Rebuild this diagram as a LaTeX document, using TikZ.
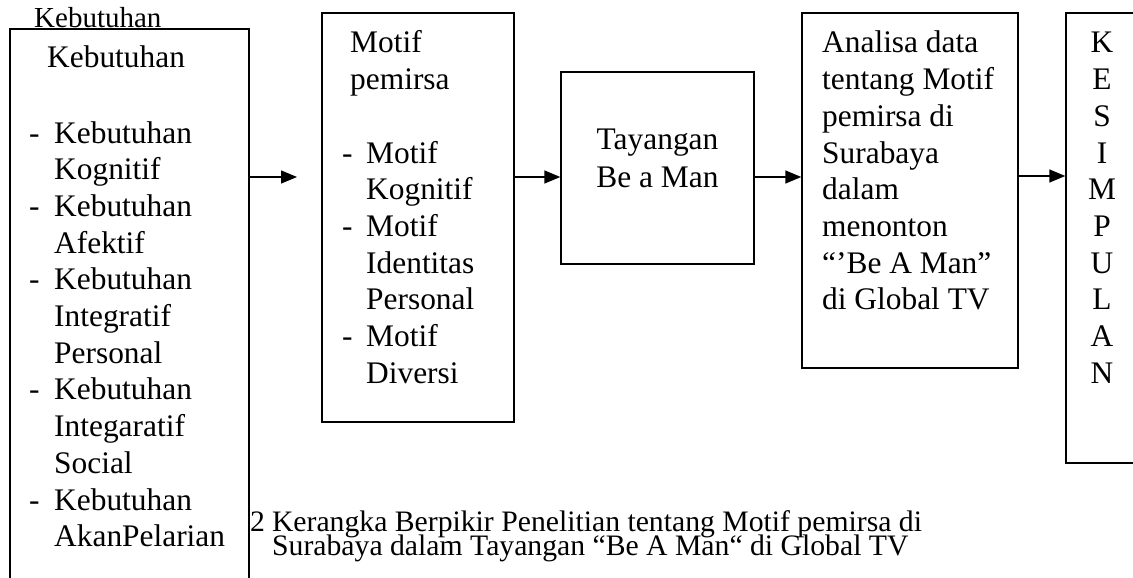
\documentclass[tikz,border=0pt]{standalone}
\usepackage{fontspec}
\setmainfont{Liberation Serif}
\usetikzlibrary{arrows.meta}
\tikzset{
  box/.style={draw, line width=1.4pt, inner sep=0pt, anchor=center},
  txt/.style={inner sep=0pt, anchor=base west, font=\fontsize{31.4}{36.7}\selectfont},
  ctxt/.style={inner sep=0pt, anchor=base, font=\fontsize{31.4}{36.7}\selectfont},
  captxt/.style={inner sep=0pt, anchor=base west, font=\fontsize{29.7}{25}\selectfont},
  arr/.style={line width=1.4pt, -{Triangle[length=16pt,width=13pt]}}
}
\newcommand{\dsh}{\makebox[25pt][l]{-}}
\newcommand{\ind}{\hspace*{25pt}}
\newcommand{\dshb}{\makebox[24pt][l]{-}}
\newcommand{\indb}{\hspace*{24pt}}
\begin{document}
\begin{tikzpicture}[x=1pt,y=-1pt]
\useasboundingbox (0,0) rectangle (1133,578);
\fill[white] (0,0) rectangle (1133,578);
\clip (0,0) rectangle (1133,578);

% boxes
\node[box, minimum width=239pt, minimum height=591pt] (b1) at (129.5,324.5) {};
\node[box, minimum width=192pt, minimum height=409pt] (b2) at (418,217.5) {};
\node[box, minimum width=193pt, minimum height=192pt] (b3) at (657.5,168) {};
\node[box, minimum width=216pt, minimum height=355pt] (b4) at (910,190.5) {};
\node[box, minimum width=84pt, minimum height=450pt] (b5) at (1108,238) {};

% top stray label
\node[inner sep=0pt, anchor=base west, font=\fontsize{29}{30}\selectfont] (topk) at (34,28) {Kebutuhan};

% box 1 text
\node[txt] (h1) at (47,68) {Kebutuhan};
\node[txt] (l1) at (29,143) {\begin{tabular}[t]{@{}l@{}}
\dsh Kebutuhan\\ \ind Kognitif\\
\dsh Kebutuhan\\ \ind Afektif\\
\dsh Kebutuhan\\ \ind Integratif\\ \ind Personal\\
\dsh Kebutuhan\\ \ind Integaratif\\ \ind Social\\
\dsh Kebutuhan\\ \ind AkanPelarian
\end{tabular}};

% box 2 text
\node[txt] (h2) at (350,53) {\begin{tabular}[t]{@{}l@{}}Motif\\pemirsa\end{tabular}};
\node[txt] (l2) at (342,163) {\begin{tabular}[t]{@{}l@{}}
\dshb Motif\\ \indb Kognitif\\
\dshb Motif\\ \indb Identitas\\ \indb Personal\\
\dshb Motif\\ \indb Diversi
\end{tabular}};

% box 3 text
\node[ctxt] (t3) at (657.5,149) {\begin{tabular}[t]{@{}c@{}}Tayangan\\[1.3pt]Be a Man\end{tabular}};

% box 4 text
\node[txt] (t4) at (822,53) {\begin{tabular}[t]{@{}l@{}}
Analisa data\\ tentang Motif\\ pemirsa di\\ Surabaya\\ dalam\\ menonton\\ “’Be A Man”\\ di Global TV
\end{tabular}};

% box 5 text
\node[ctxt] (t5) at (1102,53) {\begin{tabular}[t]{@{}c@{}}
K\\E\\S\\I\\M\\P\\U\\L\\A\\N
\end{tabular}};

% caption
\node[captxt] (cap1) at (250,531) {2\hspace{7pt}Kerangka Berpikir Penelitian tentang Motif pemirsa di};
\node[captxt] (cap2) at (272,555) {Surabaya dalam Tayangan “Be A Man“ di Global TV};

% arrows
\coordinate (a1end) at (297,177);
\draw[arr] (b1.east |- 0,177) -- (a1end);
\draw[arr] (b2.east |- 0,177) -- (b3.west |- 0,177);
\draw[arr] (b3.east |- 0,177) -- (b4.west |- 0,177);
\draw[arr] (b4.east |- 0,176) -- (b5.west |- 0,176);
\end{tikzpicture}
\end{document}
